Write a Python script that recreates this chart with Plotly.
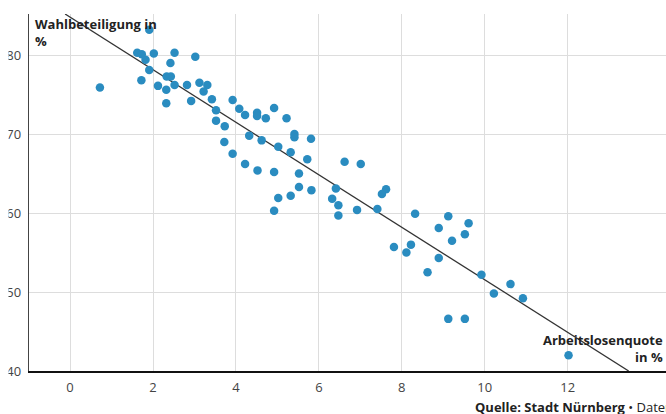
import plotly.graph_objects as go

# Arbeitslosenquote (x, %) und Wahlbeteiligung (y, %) je Stimmbezirk
unemployment = [1.91, 0.72, 1.62, 1.73, 1.82, 2.02, 1.91, 1.72, 2.52, 2.42,
                3.02, 2.33, 2.43, 2.12, 2.32, 2.52, 2.32, 2.82, 3.12, 3.31,
                3.22, 2.92, 3.42, 3.52, 3.92, 4.08, 3.52, 3.73, 4.22, 4.51,
                4.51, 4.72, 4.92, 5.22, 3.72, 3.92, 4.32, 4.62, 4.22, 4.52,
                4.92, 5.02, 5.41, 5.41, 5.81, 5.32, 5.72, 5.52, 5.52, 5.82,
                5.32, 5.02, 4.92, 6.41, 6.32, 6.47, 6.47, 6.62, 7.01, 6.92,
                7.41, 7.62, 7.52, 8.32, 8.89, 8.89, 7.81, 8.22, 8.11, 9.12,
                9.61, 9.52, 9.21, 8.62, 9.92, 10.22, 10.62, 10.92, 9.12, 9.52,
                12.02]
turnout = [83.2, 75.9, 80.3, 80.1, 79.4, 80.2, 78.1, 76.8, 80.3, 79.0,
           79.8, 77.3, 77.3, 76.1, 75.6, 76.2, 73.9, 76.2, 76.5, 76.2,
           75.4, 74.2, 74.4, 73.0, 74.3, 73.2, 71.7, 71.0, 72.4, 72.7,
           72.3, 72.0, 73.3, 72.0, 69.0, 67.5, 69.8, 69.2, 66.2, 65.4,
           65.2, 68.4, 70.0, 69.6, 69.4, 67.7, 66.8, 65.0, 63.3, 62.9,
           62.2, 61.9, 60.3, 63.1, 61.8, 61.0, 59.7, 66.5, 66.2, 60.4,
           60.5, 63.0, 62.4, 59.9, 58.1, 54.3, 55.7, 56.0, 55.0, 59.6,
           58.7, 57.3, 56.5, 52.5, 52.2, 49.8, 51.0, 49.2, 46.6, 46.6,
           42.0]

# Trendlinie (Endpunkte)
trend_x = [-0.12, 13.47]
trend_y = [85.2, 40.0]

x_ticks = [0, 2, 4, 6, 8, 10, 12]
y_ticks = [40, 50, 60, 70, 80]

W, H = 666, 414
ML, MR, MT, MB = 29, 0, 14, 43
PW, PH = W - ML - MR, H - MT - MB


def px_x(p):
    return (p - ML) / PW


def px_y(p):
    return (H - MB - p) / PH


FONT = "Open Sans"

fig = go.Figure()
fig.add_trace(go.Scatter(
    x=trend_x, y=trend_y, mode="lines",
    line=dict(color="#333333", width=1.3),
    hoverinfo="skip", showlegend=False))
fig.add_trace(go.Scatter(
    x=unemployment, y=turnout, mode="markers",
    marker=dict(size=8.5, color="#2a8cc0", line=dict(width=0)),
    showlegend=False))

fig.update_layout(
    width=W, height=H,
    margin=dict(l=ML, r=MR, t=MT, b=MB, pad=0),
    paper_bgcolor="white", plot_bgcolor="white",
    font=dict(family=FONT, size=13, color="#444444"),
    xaxis=dict(range=[-0.99, 14.37], tickvals=x_ticks,
               showgrid=True, gridcolor="#dddddd", gridwidth=1,
               zeroline=False, showline=True, linecolor="#111111",
               linewidth=1.6, ticks="", ticklabelstandoff=4,
               tickfont=dict(size=13, color="#444444")),
    yaxis=dict(range=[40, 85.2], tickvals=y_ticks,
               showgrid=True, gridcolor="#dddddd", gridwidth=1,
               zeroline=False, showline=True, linecolor="#444444",
               linewidth=1.4, ticks="", ticklabelstandoff=4,
               tickfont=dict(size=13, color="#444444")),
    shapes=[dict(type="rect", xref="paper", yref="paper",
                 x0=px_x(-5), x1=px_x(8.5), y0=px_y(414), y1=px_y(0),
                 fillcolor="white", line=dict(width=0), layer="above")],
    annotations=[
        dict(text="<b>Wahlbeteiligung in<br>%</b>", xref="paper", yref="paper",
             x=px_x(33), y=px_y(13), xanchor="left", yanchor="top",
             align="left", showarrow=False,
             font=dict(family=FONT, size=13, color="#222222")),
        dict(text="<b>Arbeitslosenquote<br>in %</b>", xref="paper", yref="paper",
             x=px_x(665), y=px_y(329), xanchor="right", yanchor="top",
             align="right", showarrow=False,
             font=dict(family=FONT, size=13, color="#222222")),
        dict(text="<b>Quelle: Stadt Nürnberg</b> • Daten: Amt für Stadtforschung und Statistik",
             xref="paper", yref="paper",
             x=px_x(473), y=px_y(407), xanchor="left", yanchor="middle",
             align="left", showarrow=False,
             font=dict(family=FONT, size=13, color="#222222")),
    ],
)

fig.write_html("out.html",
               config={"displayModeBar": False},
               post_script="document.body.style.margin='0';"
                           "document.body.style.overflow='hidden';")
